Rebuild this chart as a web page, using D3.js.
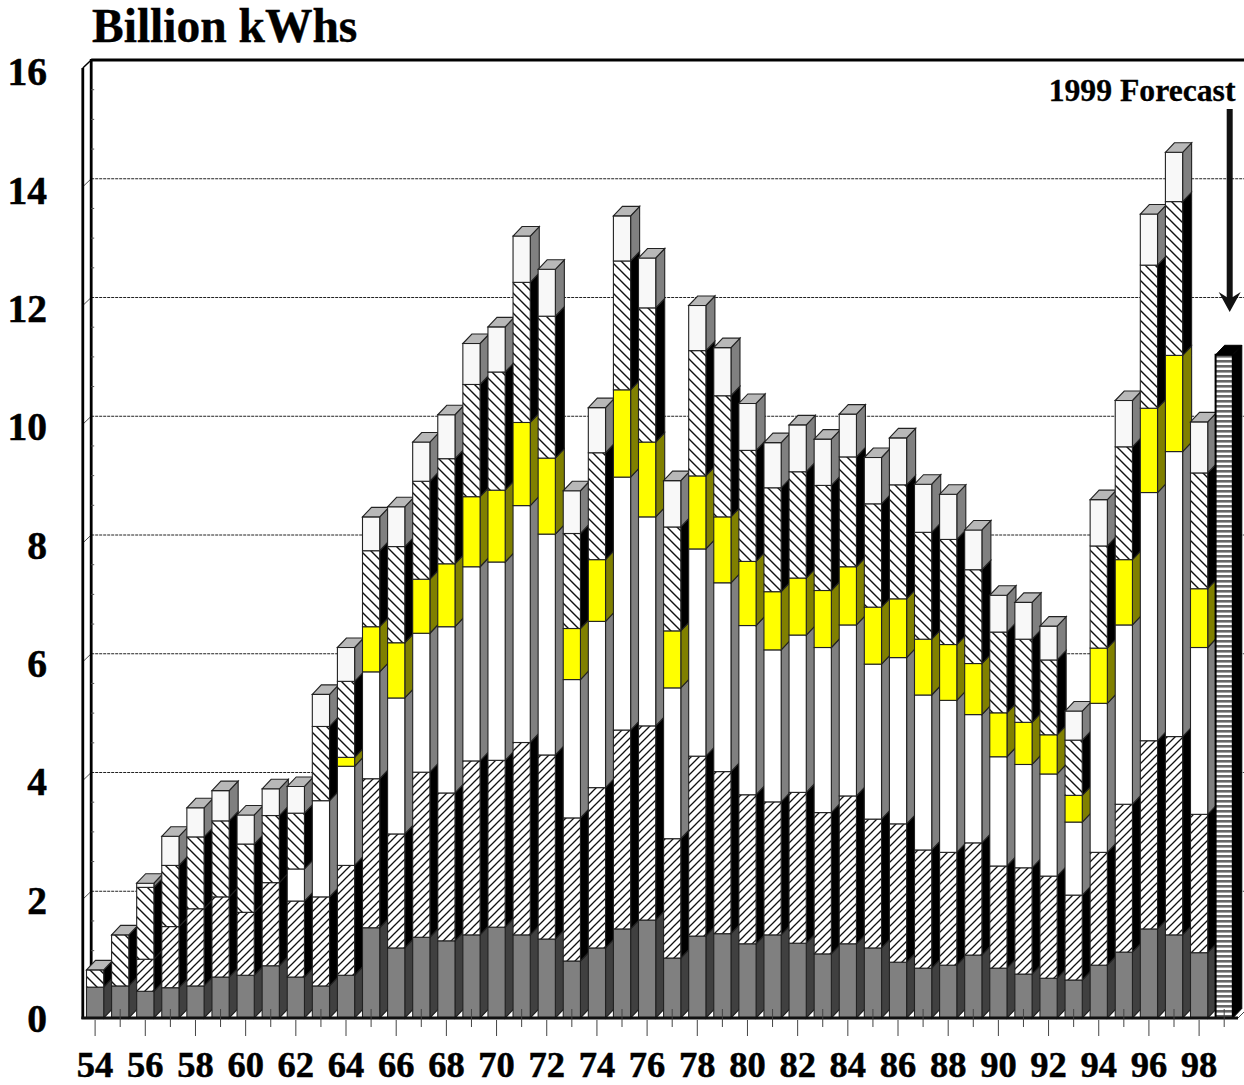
<!DOCTYPE html>
<html>
<head>
<meta charset="utf-8">
<title>Billion kWhs</title>
<script src="https://cdn.jsdelivr.net/npm/d3@7/dist/d3.min.js"></script>
<style>
  html, body { margin: 0; padding: 0; background: #fff; overflow: hidden; }
  svg { display: block; }
</style>
</head>
<body>
<svg id="chart" width="1244" height="1085"></svg>
<script>
// Annual generation by source, billion kWh, stacked bottom to top.
const years = d3.range(54, 100).map(String);

const baseLoad = [.52,.54,.45,.51,.54,.69,.72,.88,.69,.54,.72,1.52,1.18,1.36,1.30,1.40,1.53,1.40,1.33,.96,1.18,1.50,1.65,1.01,1.38,1.42,1.25,1.40,1.26,1.08,1.25,1.18,.94,.84,.89,1.06,.84,.74,.67,.64,.89,1.11,1.50,1.40,1.10];
const lowerHatch = [0,0,.54,1.03,1.30,1.35,1.06,1.40,1.28,1.50,1.85,2.51,1.92,2.78,2.49,2.93,2.81,3.24,3.10,2.41,2.70,3.35,3.27,2.01,3.03,2.73,2.51,2.24,2.54,2.38,2.49,2.17,2.33,1.99,1.90,1.89,1.72,1.79,1.72,1.43,1.90,2.49,3.17,3.34,2.33];
const plainBand = [0,0,0,0,0,0,0,0,.54,1.62,1.67,1.80,2.29,2.34,2.80,3.27,3.34,3.99,3.72,2.33,2.80,4.26,3.52,2.54,3.49,3.18,2.85,2.56,2.65,2.78,2.88,2.61,2.80,2.61,2.56,2.16,1.84,1.74,1.72,1.23,2.51,3.02,4.18,4.80,2.81];
const yellowBand = [0,0,0,0,0,0,0,0,0,0,.15,.76,.93,.91,1.06,1.18,1.21,1.40,1.28,.86,1.04,1.47,1.26,.96,1.23,1.11,1.08,.98,.96,.96,.98,.96,.99,.94,.94,.86,.74,.71,.66,.45,.93,1.10,1.42,1.62,.99];
const upperHatch = [.29,.86,1.21,1.03,1.21,1.28,1.15,1.13,.94,1.25,1.28,1.28,1.62,1.65,1.77,1.89,1.99,2.36,2.39,1.60,1.80,2.17,2.26,1.75,2.11,2.04,1.87,1.75,1.79,1.77,1.85,1.74,1.92,1.80,1.77,1.58,1.36,1.40,1.26,.93,1.72,1.90,2.41,2.59,1.95];
const capBand = [0,0,.07,.49,.49,.51,.49,.45,.45,.54,.57,.57,.67,.66,.74,.69,.76,.78,.79,.72,.76,.76,.84,.78,.76,.81,.79,.76,.79,.78,.72,.78,.79,.81,.76,.67,.62,.62,.57,.49,.78,.78,.86,.83,.86];

const forecastYear = "99";
const forecastTotal = 11.17;
const valueTicks = d3.range(0, 17, 2);
const gridTicks = d3.range(2, 16, 2);
const minorTicks = d3.range(.5, 16, .5).filter(v => v % 2 !== 0);

const seriesKeys = ["baseLoad", "lowerHatch", "plainBand", "yellowBand", "upperHatch", "capBand"];
const seriesColumns = { baseLoad, lowerHatch, plainBand, yellowBand, upperHatch, capBand };
const frontFill = {
  baseLoad: "#808080", lowerHatch: "url(#hatchUp)", plainBand: "#ffffff",
  yellowBand: "#ffff00", upperHatch: "url(#hatchDown)", capBand: "#f8f8f8"
};
const sideFill = {
  baseLoad: "#404040", lowerHatch: "#000000", plainBand: "#808080",
  yellowBand: "#808000", upperHatch: "#000000", capBand: "#808080"
};

const depth = 8;          // wall offset
const barDepthX = 9;      // bar side offset
const barDepthY = 9.5;
const serif = "'Liberation Serif', 'Times New Roman', serif";

const svg = d3.select("#chart");

const x = d3.scaleBand().domain(years).range([86.5, 1232.8]).paddingInner(0.314).paddingOuter(0);
const y = d3.scaleLinear().domain([0, 16]).range([1018, 68]);
const yLabels = d3.scaleLinear().domain([0, 16]).range([1019, 72]);

// Fill patterns for the hatched bands and the forecast column.
const defs = svg.append("defs");
const hatch = (id, size, d, w) => defs.append("pattern").attr("id", id)
    .attr("patternUnits", "userSpaceOnUse").attr("width", size).attr("height", size)
  .call(p => p.append("rect").attr("width", size).attr("height", size).attr("fill", "#fff"))
  .call(p => p.append("path").attr("d", d).attr("stroke", "#111").attr("stroke-width", w));
hatch("hatchUp", 8, "M-2,2 L2,-2 M0,8 L8,0 M6,10 L10,6", 1.3);
hatch("hatchDown", 10, "M-2,8 L2,12 M0,0 L10,10 M8,-2 L12,2", 1.4);
defs.append("pattern").attr("id", "stripes").attr("patternUnits", "userSpaceOnUse")
    .attr("width", 8).attr("height", 5)
  .call(p => p.append("rect").attr("width", 8).attr("height", 5).attr("fill", "#fff"))
  .call(p => p.append("rect").attr("width", 8).attr("height", 2.6).attr("fill", "#666"));

// Gridlines on the back wall, with their short return across the side wall.
const wallFront = 82.8;
const wallBack = 91.2;
const rightEdge = 1244;
const grid = svg.append("g").attr("fill", "none").attr("stroke", "#222").attr("stroke-width", 1);
grid.selectAll(".grid").data(gridTicks).join("line").attr("class", "grid")
  .attr("x1", wallBack).attr("x2", rightEdge)
  .attr("y1", d => y(d) - depth).attr("y2", d => y(d) - depth)
  .attr("stroke-dasharray", "3,1");
grid.selectAll(".return").data(gridTicks).join("line").attr("class", "return")
  .attr("x1", wallFront).attr("x2", wallBack)
  .attr("y1", d => y(d)).attr("y2", d => y(d) - depth)
  .attr("stroke-width", .8);

// Walls of the box and the floor edge.
const frame = svg.append("g").attr("fill", "none").attr("stroke", "#000");
frame.append("line").attr("x1", wallFront).attr("x2", wallFront)
  .attr("y1", y(16)).attr("y2", y(0) + 1).attr("stroke-width", 2.8);
frame.append("line").attr("x1", wallBack).attr("x2", wallBack)
  .attr("y1", y(16) - depth - 1).attr("y2", y(0) - depth).attr("stroke-width", 2.8);
frame.append("line").attr("x1", wallBack).attr("x2", rightEdge)
  .attr("y1", y(16) - depth).attr("y2", y(16) - depth).attr("stroke-width", 3);
frame.append("line").attr("x1", wallFront).attr("x2", wallBack)
  .attr("y1", y(16)).attr("y2", y(16) - depth).attr("stroke-width", 1.5);
frame.selectAll(".minor").data(minorTicks).join("line").attr("class", "minor")
  .attr("x1", wallBack).attr("x2", wallBack + 3)
  .attr("y1", d => y(d) - depth).attr("y2", d => y(d) - depth)
  .attr("stroke", "#555").attr("stroke-width", 1);

// Stacked bars, left to right so each one overlaps its neighbour's side face.
const stacked = d3.stack().keys(seriesKeys)(years.slice(0, -1).map((year, i) => {
  const row = { year };
  seriesKeys.forEach(k => { row[k] = seriesColumns[k][i]; });
  return row;
}));
const bandWidth = x.bandwidth();

const sideFace = (xLeft, y0, y1) => {
  const r = xLeft + bandWidth;
  return `M${r},${y0}L${r + barDepthX},${y0 - barDepthY}L${r + barDepthX},${y1 - barDepthY}L${r},${y1}Z`;
};
const topFace = (xLeft, yTop) => {
  const r = xLeft + bandWidth;
  return `M${xLeft},${yTop}L${xLeft + barDepthX},${yTop - barDepthY}L${r + barDepthX},${yTop - barDepthY}L${r},${yTop}Z`;
};

const bars = svg.append("g").attr("stroke", "#222").attr("stroke-width", 1.1)
  .attr("stroke-linejoin", "miter");

years.slice(0, -1).forEach((year, i) => {
  const left = x(year);
  const g = bars.append("g").attr("class", "bar");
  stacked.forEach(layer => {
    const [v0, v1] = layer[i];
    if (v1 <= v0) return;
    g.append("path").attr("d", sideFace(left, y(v0), y(v1)))
      .attr("fill", sideFill[layer.key]);
    g.append("rect").attr("x", left).attr("y", y(v1))
      .attr("width", bandWidth).attr("height", y(v0) - y(v1))
      .attr("fill", frontFill[layer.key]);
  });
  const total = stacked[stacked.length - 1][i][1];
  g.append("path").attr("d", topFace(left, y(total))).attr("fill", "#b8b8b8");
});

// Forecast column in its striped fill with a black side and top.
const forecast = svg.append("g").attr("class", "forecast");
const fLeft = x(forecastYear);
forecast.append("path").attr("d", sideFace(fLeft, y(0), y(forecastTotal)))
  .attr("fill", "#000").attr("stroke", "#000");
forecast.append("path").attr("d", topFace(fLeft, y(forecastTotal)))
  .attr("fill", "#000").attr("stroke", "#000");
forecast.append("rect").attr("x", fLeft).attr("y", y(forecastTotal))
  .attr("width", bandWidth).attr("height", y(0) - y(forecastTotal))
  .attr("fill", "url(#stripes)").attr("stroke", "#000").attr("stroke-width", 2);

// Floor edge over the feet of the bars.
svg.append("line").attr("x1", wallFront - 1.4).attr("x2", 1238)
  .attr("y1", y(0)).attr("y2", y(0)).attr("stroke", "#111").attr("stroke-width", 3.2);
svg.append("line").attr("x1", 1238).attr("x2", 1238 + depth)
  .attr("y1", y(0)).attr("y2", y(0) - depth).attr("stroke", "#444").attr("stroke-width", 1);

// Value axis, labels only.
const valueAxis = svg.append("g").attr("transform", "translate(47,0)")
  .call(d3.axisLeft(yLabels).tickValues(valueTicks).tickSize(0).tickPadding(0));
valueAxis.select(".domain").remove();
valueAxis.attr("font-family", serif).attr("font-size", 39.5).attr("font-weight", "bold");
valueAxis.selectAll("text").attr("fill", "#000").attr("stroke", "#000").attr("stroke-width", .5);

// Year axis: long ticks and labels on even years, short ticks on odd ones.
const yearAxis = svg.append("g").attr("transform", `translate(0,${y(0)})`)
  .call(d3.axisBottom(x).tickSizeOuter(0).tickFormat(d => (+d % 2 === 0 ? d : "")));
yearAxis.select(".domain").remove();
yearAxis.attr("font-family", serif).attr("font-size", 36.5).attr("font-weight", "bold");
yearAxis.selectAll("line")
  .attr("stroke", "#444").attr("stroke-width", 1)
  .attr("y1", d => (+d % 2 === 0 ? 2 : -9))
  .attr("y2", d => (+d % 2 === 0 ? 18 : 9));
yearAxis.selectAll("text").attr("fill", "#000").attr("stroke", "#000").attr("stroke-width", .5)
  .attr("y", 59).attr("dy", 0);

// Titles and the forecast call-out.
svg.append("text").attr("x", 92).attr("y", 42)
  .attr("font-family", serif).attr("font-size", 47.5).attr("font-weight", "bold")
  .attr("stroke", "#000").attr("stroke-width", .4)
  .text("Billion kWhs");
svg.append("text").attr("x", 1235.5).attr("y", 101).attr("text-anchor", "end")
  .attr("font-family", serif).attr("font-size", 31.7).attr("font-weight", "bold")
  .attr("stroke", "#000").attr("stroke-width", .3)
  .text("1999 Forecast");

const arrowX = x(forecastYear) + bandWidth / 2 + 5.5;
const arrow = svg.append("g").attr("fill", "#111");
arrow.append("rect").attr("x", arrowX - 3).attr("y", 109).attr("width", 6).attr("height", 192);
arrow.append("path").attr("d",
  `M${arrowX},312L${arrowX - 11},292L${arrowX},299L${arrowX + 11},292Z`);
</script>
</body>
</html>
